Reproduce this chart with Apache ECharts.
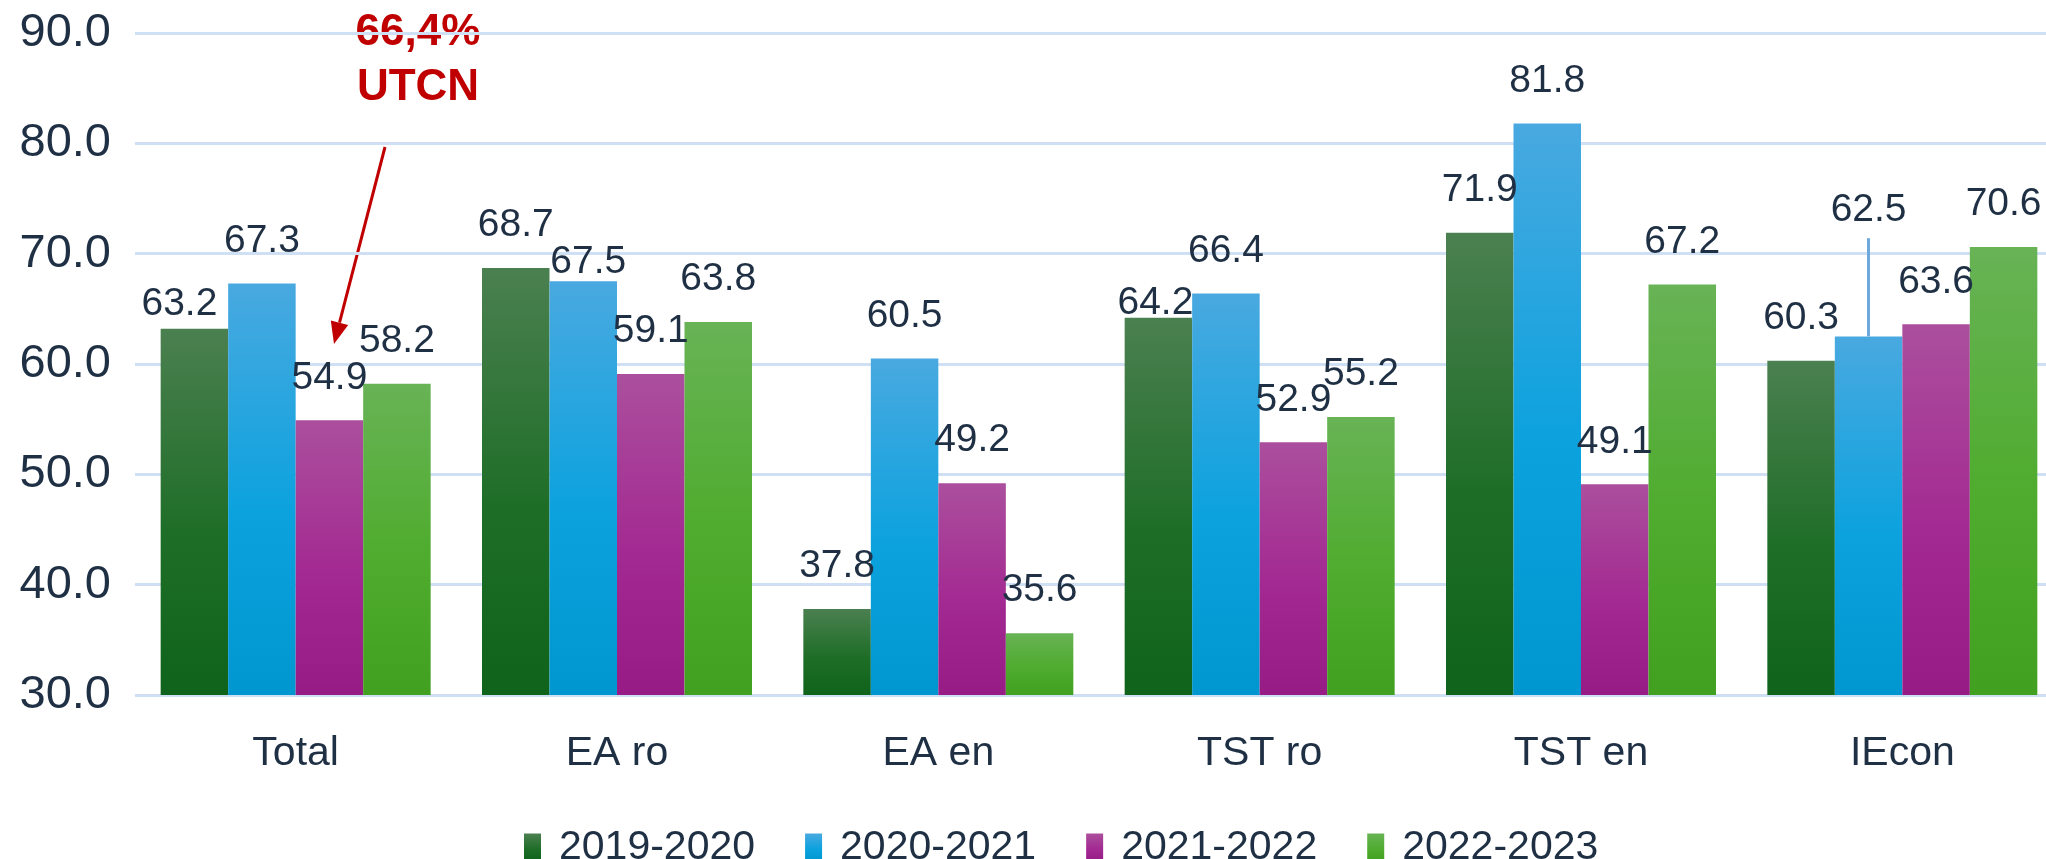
<!DOCTYPE html>
<html>
<head>
<meta charset="utf-8">
<script src="https://cdn.jsdelivr.net/npm/echarts@6/dist/echarts.min.js"></script>
<style>
  html, body { margin: 0; padding: 0; background: #fff; overflow: hidden; }
  #chart { width: 2070px; height: 859px; }
</style>
</head>
<body>
<div id="chart"></div>
<script>
// data
var categories = ['Total', 'EA ro', 'EA en', 'TST ro', 'TST en', 'IEcon'];
var years = ['2019-2020', '2020-2021', '2021-2022', '2022-2023'];
var y2019 = [63.2, 68.7, 37.8, 64.2, 71.9, 60.3];
var y2020 = [67.3, 67.5, 60.5, 66.4, 81.8, 62.5];
var y2021 = [54.9, 59.1, 49.2, 52.9, 49.1, 63.6];
var y2022 = [58.2, 63.8, 35.6, 55.2, 67.2, 70.6];
var yMin = 30, yMax = 90, yStep = 10;

// labels that sit off their default spot (series-category : [dx, dy])
var labelNudge = { '0-0': [-15, 18], '1-1': [5, 23], '0-3': [-3, 28], '1-5': [0, -84] };

var textColor = '#1f3044';
var font = "'Liberation Sans', Arial, sans-serif";

function grad (top, mid, bottom) {
  return new echarts.graphic.LinearGradient(0, 0, 0, 1, [
    { offset: 0, color: top },
    { offset: 0.55, color: mid },
    { offset: 1, color: bottom }
  ])
}

var fills = [
  grad('#4b8050', '#1f6e28', '#0f631a'),
  grad('#49a9e0', '#0ca2de', '#0096cf'),
  grad('#ab4f9d', '#a32a92', '#971b85'),
  grad('#68b356', '#4fac2e', '#42a020')
];

var allValues = [y2019, y2020, y2021, y2022];

var series = allValues.map(function (vals, s) {
  return {
    name: years[s],
    type: 'bar',
    barWidth: 67.5,
    barGap: '0%',
    itemStyle: { color: fills[s] },
    label: {
      show: true,
      position: 'top',
      distance: 23,
      color: textColor,
      fontFamily: font,
      fontSize: 39,
      formatter: function (p) { return p.value.toFixed(1) }
    },
    data: vals.map(function (v, i) {
      var n = labelNudge[s + '-' + i];
      return n ? { value: v, label: { offset: n } } : v
    })
  }
});

// leader line for the lifted IEcon label
series[1].markLine = {
  silent: true,
  symbol: 'none',
  label: { show: false },
  lineStyle: { color: '#6fa8dc', width: 3, type: 'solid' },
  data: [[{ coord: ['IEcon', y2020[5]] }, { coord: ['IEcon', y2020[5] + 8.9] }]]
};

var myChart = echarts.init(document.getElementById('chart'));

var option = {
  animation: false,
  backgroundColor: '#fff',
  grid: { left: 135, top: 33, right: 7, bottom: 164 },
  legend: {
    data: years,
    left: 519,
    top: 822,
    icon: 'rect',
    itemWidth: 17,
    itemHeight: 28,
    itemGap: 50,
    textStyle: { color: textColor, fontFamily: font, fontSize: 41, padding: [0, 0, 0, 13] }
  },
  xAxis: {
    type: 'category',
    data: categories,
    axisLine: { show: false },
    axisTick: { show: false },
    axisLabel: { color: textColor, fontFamily: font, fontSize: 41, margin: 38 }
  },
  yAxis: {
    type: 'value',
    min: yMin,
    max: yMax,
    interval: yStep,
    axisLine: { show: false },
    axisTick: { show: false },
    axisLabel: {
      color: textColor, fontFamily: font, fontSize: 47, margin: 24,
      formatter: function (v) { return v.toFixed(1) }
    },
    splitLine: { show: true, lineStyle: { color: '#cfe0f4', width: 3 } }
  },
  series: series,
  graphic: [
    {
      type: 'text', x: 418, y: 33,
      style: { text: '66,4%', fill: '#c00000', font: "bold 44px 'Liberation Sans', Arial", align: 'center', verticalAlign: 'middle' }
    },
    {
      type: 'text', x: 418, y: 88,
      style: { text: 'UTCN', fill: '#c00000', font: "bold 44px 'Liberation Sans', Arial", align: 'center', verticalAlign: 'middle' }
    },
    {
      type: 'line',
      shape: { x1: 385, y1: 147, x2: 339.5, y2: 322.7 },
      style: { stroke: '#c00000', lineWidth: 3 }
    },
    {
      type: 'polygon',
      shape: { points: [[334, 344], [348.2, 325], [330.8, 320.4]] },
      style: { fill: '#c00000' }
    }
  ]
};

myChart.setOption(option);
</script>
</body>
</html>
